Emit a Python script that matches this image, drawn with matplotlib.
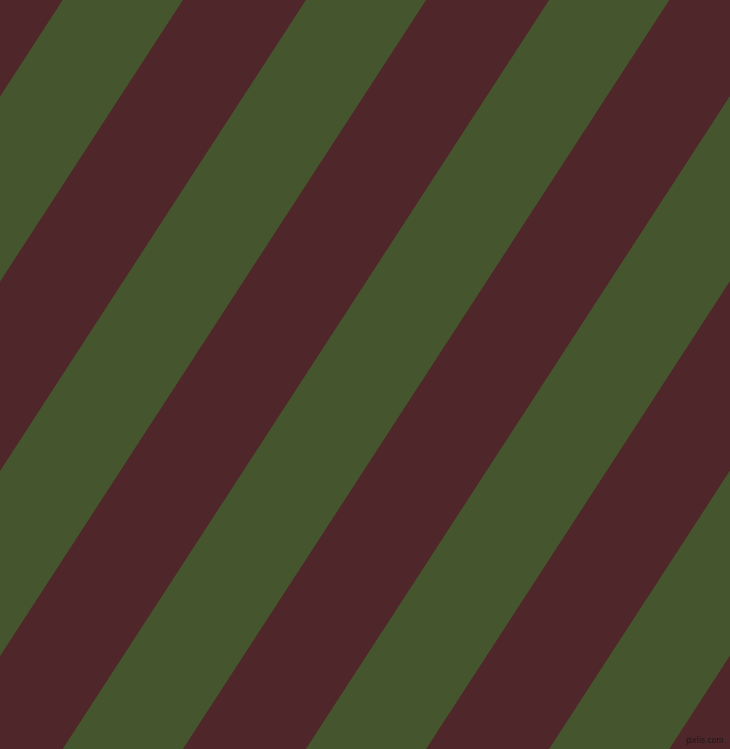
import matplotlib
matplotlib.use('Agg')
import matplotlib.pyplot as plt

# diagonal stripe pattern
W, H = 730, 749
maroon = '#4f2629'
green = '#45562e'

# x where each green stripe meets the top edge (left side), and its width along x
green_top_left = [62.7, 305.9, 549.1, 792.3, 1035.5]
green_width = 120.2
# how far a boundary moves left going from top (y=0) to bottom (y=749)
shift_at_bottom = 486.4

fig = plt.figure(figsize=(W / 100, H / 100), dpi=100, facecolor=maroon)
ax = fig.add_axes([0, 0, 1, 1])
ax.set_facecolor(maroon)
ax.set_xlim(0, W)
ax.set_ylim(H, 0)
ax.axis('off')

for x0 in green_top_left:
    xs = [x0, x0 + green_width, x0 + green_width - shift_at_bottom, x0 - shift_at_bottom]
    ys = [0, 0, H, H]
    ax.fill(xs, ys, color=green, linewidth=0, antialiased=True)

ax.text(724, 745, 'pixlis.com', fontsize=5.5, color='#1a1a1a',
        ha='right', va='bottom', family='DejaVu Sans')

fig.savefig('out.png', dpi=100, facecolor=maroon)
